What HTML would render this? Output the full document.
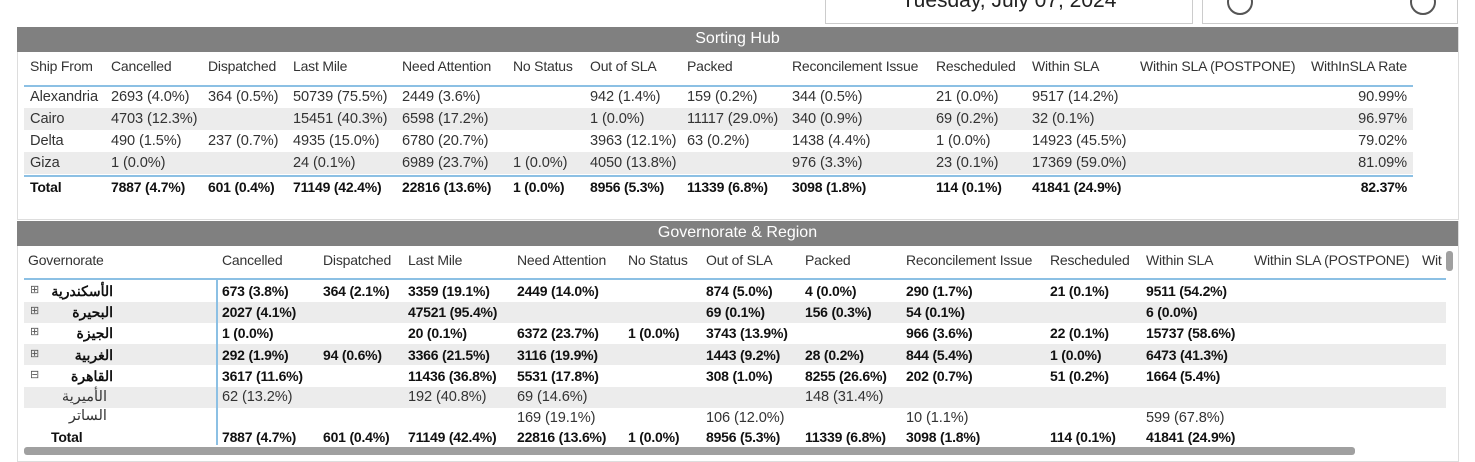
<!DOCTYPE html>
<html><head><meta charset="utf-8">
<style>
body{margin:0;width:1475px;height:453px;overflow:hidden;background:#fff;font-family:"Liberation Sans","Noto Sans CJK SC",sans-serif;position:relative}
.a{position:absolute;white-space:nowrap}
.c{position:absolute;white-space:nowrap;font-size:14.6px;color:#333;line-height:16px;letter-spacing:-0.1px}
.h{font-size:14px;letter-spacing:-0.2px}
.b{font-weight:bold;color:#111;font-size:14px;letter-spacing:-0.2px}
.bar{position:absolute;background:#808080;color:#fff;font-size:16px;text-align:center;line-height:24px}
.alt{position:absolute;background:#ececec}
.bl{position:absolute;background:#8cc0e4}
</style></head><body>
<div class="a" style="left:825px;top:-2px;width:366px;height:24px;border:1px solid #ccc;text-align:center;font-size:21px;line-height:10px;color:#222;overflow:hidden"><span style="position:relative;top:-3px">Tuesday, July 07, 2024</span></div>
<div class="a" style="left:1202px;top:-2px;width:254px;height:24px;border:1px solid #ccc;overflow:hidden">
<div class="a" style="left:24px;top:-10px;width:22px;height:22px;border:2px solid #555;border-radius:50%"></div>
<div class="a" style="left:207px;top:-10px;width:22px;height:22px;border:2px solid #555;border-radius:50%"></div></div>

<div class="a" style="left:17px;top:27px;width:1440px;height:192px;border:1px solid #ddd;border-top:none"></div>
<div class="bar" style="left:17px;top:27px;width:1441px;height:25px">Sorting Hub</div>
<div class="a" style="left:17px;top:221px;width:1440px;height:240px;border:1px solid #ddd;border-top:none"></div>
<div class="bar" style="left:17px;top:221px;width:1441px;height:25px">Governorate &amp; Region</div>
<div class="a" style="left:24px;top:447px;width:1331px;height:8px;background:#a0a0a0;border-radius:3px"></div>
<div class="a" style="left:1446px;top:251px;width:7px;height:20px;background:#a0a0a0;border-radius:3px"></div>
<div id="root"></div>
<script>
const topCols=["Ship From","Cancelled","Dispatched","Last Mile","Need Attention","No Status","Out of SLA","Packed","Reconcilement Issue","Rescheduled","Within SLA","Within SLA (POSTPONE)","WithInSLA Rate"];
const topRows=[
["Alexandria","2693 (4.0%)","364 (0.5%)","50739 (75.5%)","2449 (3.6%)","","942 (1.4%)","159 (0.2%)","344 (0.5%)","21 (0.0%)","9517 (14.2%)","","90.99%"],
["Cairo","4703 (12.3%)","","15451 (40.3%)","6598 (17.2%)","","1 (0.0%)","11117 (29.0%)","340 (0.9%)","69 (0.2%)","32 (0.1%)","","96.97%"],
["Delta","490 (1.5%)","237 (0.7%)","4935 (15.0%)","6780 (20.7%)","","3963 (12.1%)","63 (0.2%)","1438 (4.4%)","1 (0.0%)","14923 (45.5%)","","79.02%"],
["Giza","1 (0.0%)","","24 (0.1%)","6989 (23.7%)","1 (0.0%)","4050 (13.8%)","","976 (3.3%)","23 (0.1%)","17369 (59.0%)","","81.09%"]];
const topTotal=["Total","7887 (4.7%)","601 (0.4%)","71149 (42.4%)","22816 (13.6%)","1 (0.0%)","8956 (5.3%)","11339 (6.8%)","3098 (1.8%)","114 (0.1%)","41841 (24.9%)","","82.37%"];
const botCols=["Governorate","Cancelled","Dispatched","Last Mile","Need Attention","No Status","Out of SLA","Packed","Reconcilement Issue","Rescheduled","Within SLA","Within SLA (POSTPONE)","Wit"];
const botRows=[
["الأسكندرية","673 (3.8%)","364 (2.1%)","3359 (19.1%)","2449 (14.0%)","","874 (5.0%)","4 (0.0%)","290 (1.7%)","21 (0.1%)","9511 (54.2%)"],
["البحيرة","2027 (4.1%)","","47521 (95.4%)","","","69 (0.1%)","156 (0.3%)","54 (0.1%)","","6 (0.0%)"],
["الجيزة","1 (0.0%)","","20 (0.1%)","6372 (23.7%)","1 (0.0%)","3743 (13.9%)","","966 (3.6%)","22 (0.1%)","15737 (58.6%)"],
["الغربية","292 (1.9%)","94 (0.6%)","3366 (21.5%)","3116 (19.9%)","","1443 (9.2%)","28 (0.2%)","844 (5.4%)","1 (0.0%)","6473 (41.3%)"],
["القاهرة","3617 (11.6%)","","11436 (36.8%)","5531 (17.8%)","","308 (1.0%)","8255 (26.6%)","202 (0.7%)","51 (0.2%)","1664 (5.4%)"]];
const subRows=[
["الأميرية","62 (13.2%)","","192 (40.8%)","69 (14.6%)","","","148 (31.4%)","","",""],
["الساتر","","","","169 (19.1%)","","106 (12.0%)","","10 (1.1%)","","599 (67.8%)"]];
const botTotal=["Total","7887 (4.7%)","601 (0.4%)","71149 (42.4%)","22816 (13.6%)","1 (0.0%)","8956 (5.3%)","11339 (6.8%)","3098 (1.8%)","","114 (0.1%)","41841 (24.9%)"];
const tx=[30,111,208,293,402,513,590,687,792,936,1032,1140,1407];
const bx=[28,222,323,408,517,628,706,805,906,1050,1146,1254,1422];
const root=document.getElementById('root');
function cell(txt,x,y,cls,right){const d=document.createElement('div');d.className='c '+(cls||'');d.textContent=txt;d.style.top=(y-8)+'px';if(right){d.style.right=(1475-x)+'px';}else d.style.left=x+'px';


root.appendChild(d);return d;}
function box(cls,x,y,w,h,name){const d=document.createElement('div');d.className=cls;d.style.cssText=`left:${x}px;top:${y}px;width:${w}px;height:${h}px`;


root.appendChild(d);}
box('alt',24,108,1389,22,'row-band');box('alt',24,152,1389,22,'row-band');
box('bl',24,85,1389,2,'header-rule');box('bl',24,175,1389,2,'total-rule');
topCols.forEach((t,i)=>{const h=cell(t,tx[i],66,'h',i==12);});
const ty=[97,119,141,163];
topRows.forEach((r,j)=>r.forEach((t,i)=>{if(t)cell(t,tx[i],ty[j],'',i==12);}));
topTotal.forEach((t,i)=>{if(t)cell(t,tx[i],187,'b',i==12);});
box('alt',24,302,1422,21,'row-band');box('alt',24,344,1422,21,'row-band');box('alt',24,387,1422,21,'row-band');
box('bl',24,278,1422,2,'header-rule');box('bl',216,280,2,165,'row-header-divider');
botCols.forEach((t,i)=>{const h=cell(t,bx[i],260,'h',false);});
const by=[291,312,333,355,376];
botRows.forEach((r,j)=>{r.forEach((t,i)=>{if(!t)return;if(i==0){cell(t,113,by[j],'b',true);const e=document.createElement('div');e.className='a';e.textContent=j==4?'⊟':'⊞';e.style.cssText=`left:30px;top:${by[j]-8}px;font-size:11px;color:#555`;


root.appendChild(e);}else cell(t,bx[i],by[j],'b');});});
const sy=[397,418];
subRows.forEach((r,j)=>r.forEach((t,i)=>{if(!t)return;if(i==0)cell(t,107,sy[j]-(j?2:0),'',true);else cell(t,bx[i],sy[j],'');}));
const tb=[28,222,323,408,517,628,706,805,906,null,1050,1146];
botTotal.forEach((t,i)=>{if(t)cell(t,i==0?51:tb[i],437,'b');});
</script>
</body></html>
